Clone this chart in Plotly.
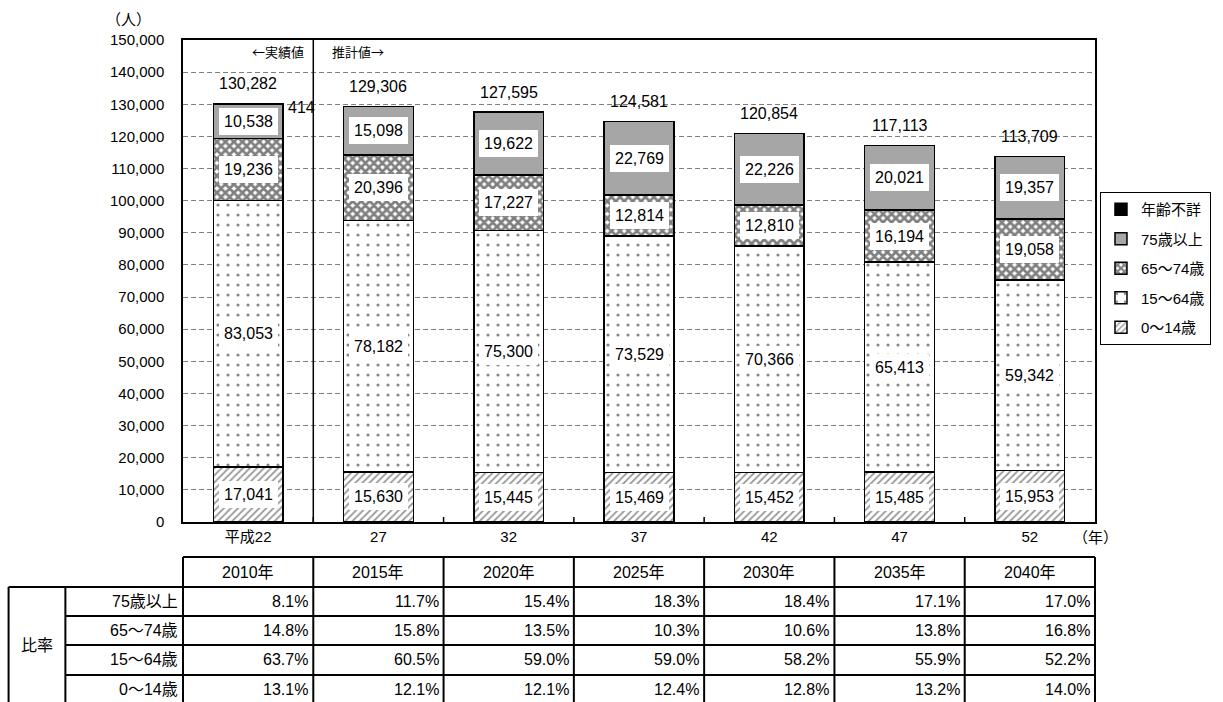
import plotly.graph_objects as go

# 年次（和暦）と西暦
categories = ["平成22", "27", "32", "37", "42", "47", "52"]
years = ["2010年", "2015年", "2020年", "2025年", "2030年", "2035年", "2040年"]

# 年齢階級別人口（人）
age_0_14 = [17041, 15630, 15445, 15469, 15452, 15485, 15953]
age_15_64 = [83053, 78182, 75300, 73529, 70366, 65413, 59342]
age_65_74 = [19236, 20396, 17227, 12814, 12810, 16194, 19058]
age_75_over = [10538, 15098, 19622, 22769, 22226, 20021, 19357]
age_unknown = [414, 0, 0, 0, 0, 0, 0]
totals = [130282, 129306, 127595, 124581, 120854, 117113, 113709]

# 構成比（%）
ratio_labels = ["75歳以上", "65～74歳", "15～64歳", "0～14歳"]
ratio_75_over = [8.1, 11.7, 15.4, 18.3, 18.4, 17.1, 17.0]
ratio_65_74 = [14.8, 15.8, 13.5, 10.3, 10.6, 13.8, 16.8]
ratio_15_64 = [63.7, 60.5, 59.0, 59.0, 58.2, 55.9, 52.2]
ratio_0_14 = [13.1, 12.1, 12.1, 12.4, 12.8, 13.2, 14.0]

FONT = "Arial, 'Liberation Sans', 'Noto Sans CJK JP', sans-serif"
CJK = "'Noto Sans CJK JP', sans-serif"
W, H = 1223, 702
ML, MR, MT, MB = 183, 125, 40, 180
PW, PH = W - ML - MR, H - MT - MB


def px_x(px):
    return (px - ML) / PW


def px_y(py):
    return (H - MB - py) / PH


def txt(size=15, family=FONT):
    return dict(size=size, family=family, color="black")


fig = go.Figure()

series = [
    ("0～14歳", age_0_14, dict(shape="/", fgcolor="#333333", bgcolor="white", size=5, solidity=0.35)),
    ("15～64歳", age_15_64, dict(shape=".", fgcolor="#111111", bgcolor="white", size=10, solidity=0.08)),
    ("65～74歳", age_65_74, dict(shape="x", fgcolor="black", bgcolor="white", size=6, solidity=0.7)),
    ("75歳以上", age_75_over, None),
    ("年齢不詳", age_unknown, None),
]
fills = {"75歳以上": "#A6A6A6", "年齢不詳": "black"}
n_series = len(series)

for k, (name, vals, pat) in enumerate(series):
    marker = dict(line=dict(color="black", width=1.5))
    if pat is not None:
        marker["color"] = "white"
        marker["pattern"] = pat
    else:
        marker["color"] = fills[name]
    fig.add_trace(go.Bar(
        x=list(range(len(categories))), y=vals, name=name, marker=marker, width=0.535,
        legendgroup=name, legendrank=n_series - k, hoverinfo="skip",
    ))

annotations = []

# 各区分の数値ラベル（白抜き）
base = [0] * len(categories)
for name, vals, _ in series:
    for i, v in enumerate(vals):
        if name != "年齢不詳" and v > 0:
            annotations.append(dict(
                x=i, y=base[i] + v / 2, text=f"{v:,}", showarrow=False,
                xanchor="center", yanchor="middle", font=txt(16),
                bgcolor="white", borderpad=5, borderwidth=0,
            ))
        base[i] += v

# 年齢不詳
for i, v in enumerate(age_unknown):
    if v > 0:
        annotations.append(dict(
            x=i, y=base[i], text=f"{v:,}", showarrow=False,
            xanchor="left", yanchor="middle", xshift=38, yshift=-4, font=txt(16),
        ))

# 合計
for i, t in enumerate(totals):
    annotations.append(dict(
        x=i, y=base[i], text=f"{t:,}", showarrow=False,
        xanchor="center", yanchor="middle", yshift=20, font=txt(16),
    ))

annotations += [
    dict(xref="paper", yref="paper", x=px_x(306), y=px_y(51), text="←実績値",
         showarrow=False, xanchor="right", yanchor="middle", font=txt(13, CJK)),
    dict(xref="paper", yref="paper", x=px_x(330), y=px_y(51), text="推計値→",
         showarrow=False, xanchor="left", yanchor="middle", font=txt(13, CJK)),
    dict(xref="paper", yref="paper", x=px_x(128), y=px_y(20), text="（人）",
         showarrow=False, xanchor="center", yanchor="middle", font=txt(15)),
    dict(xref="paper", yref="paper", x=px_x(1098), y=px_y(537), text="（年）",
         showarrow=False, xanchor="center", yanchor="middle", font=txt(15)),
]

shapes = [
    # 実績値と推計値の境界
    dict(type="line", xref="x", yref="paper", x0=0.5, x1=0.5, y0=0, y1=1,
         line=dict(color="black", width=1.5)),
]

# カテゴリ境界の目盛り
for j in range(1, len(categories)):
    shapes.append(dict(type="line", xref="x", yref="paper", x0=j - 0.5, x1=j - 0.5,
                       y0=0, y1=px_y(H - MB - 5), line=dict(color="black", width=1.5)))

# 構成比の表
row_y = [557, 587, 616, 645, 675, 704]
x_left, x_mid = px_x(8), px_x(65)
ncol = len(years)
tline = dict(color="black", width=2)
TF = 16

# 見出し行
shapes.append(dict(type="line", xref="paper", yref="paper", x0=0, x1=1,
                   y0=px_y(row_y[0]), y1=px_y(row_y[0]), line=tline))
for j in range(ncol + 1):
    shapes.append(dict(type="line", xref="paper", yref="paper", x0=j / ncol, x1=j / ncol,
                       y0=px_y(row_y[0]), y1=px_y(H + 5), line=tline))
for j, yr in enumerate(years):
    annotations.append(dict(xref="paper", yref="paper", x=(j + 0.5) / ncol,
                            y=px_y((row_y[0] + row_y[1]) / 2), text=yr, showarrow=False,
                            xanchor="center", yanchor="middle", font=txt(TF)))

# 本体
for k in range(1, 5):
    shapes.append(dict(type="line", xref="paper", yref="paper",
                       x0=x_left if k == 1 else x_mid, x1=1,
                       y0=px_y(row_y[k]), y1=px_y(row_y[k]), line=tline))
for xx in (x_left, x_mid):
    shapes.append(dict(type="line", xref="paper", yref="paper", x0=xx, x1=xx,
                       y0=px_y(row_y[1]), y1=px_y(H + 5), line=tline))

annotations.append(dict(xref="paper", yref="paper", x=(x_left + x_mid) / 2,
                        y=px_y((row_y[1] + row_y[5]) / 2), text="比率", showarrow=False,
                        xanchor="center", yanchor="middle", font=txt(TF)))

ratio_rows = [ratio_75_over, ratio_65_74, ratio_15_64, ratio_0_14]
for r, (lab, vals) in enumerate(zip(ratio_labels, ratio_rows)):
    yc = px_y((row_y[r + 1] + row_y[r + 2]) / 2)
    annotations.append(dict(xref="paper", yref="paper", x=px_x(180), y=yc, text=lab,
                            showarrow=False, xanchor="right", yanchor="middle", font=txt(TF)))
    for j, v in enumerate(vals):
        annotations.append(dict(xref="paper", yref="paper", x=(j + 1) / ncol, xshift=-3,
                                y=yc, text=f"{v:.1f}%", showarrow=False,
                                xanchor="right", yanchor="middle", font=txt(TF)))

fig.update_layout(
    width=W, height=H,
    margin=dict(l=ML, r=MR, t=MT, b=MB, pad=0),
    barmode="stack",
    plot_bgcolor="white", paper_bgcolor="white",
    font=txt(15),
    showlegend=True,
    legend=dict(
        x=px_x(1103), y=px_y(192), xanchor="left", yanchor="top",
        traceorder="grouped", tracegroupgap=7,
        bordercolor="black", borderwidth=1, bgcolor="white",
        font=txt(15), itemwidth=30,
    ),
    annotations=annotations,
    shapes=shapes,
)

fig.update_xaxes(
    range=[-0.5, 6.5],
    tickmode="array", tickvals=list(range(len(categories))), ticktext=categories,
    showline=True, linecolor="black", linewidth=1.5, mirror=True,
    ticks="", showgrid=False, zeroline=False, tickfont=txt(15),
)
fig.update_yaxes(
    range=[0, 150000], dtick=10000, tickformat=",d",
    showline=True, linecolor="black", linewidth=1.5, mirror=True,
    ticks="", ticklabelstandoff=14,
    showgrid=True, gridcolor="#808080", gridwidth=1, griddash="5px,3px",
    zeroline=False, tickfont=txt(15),
)

fig.write_html("out.html")
